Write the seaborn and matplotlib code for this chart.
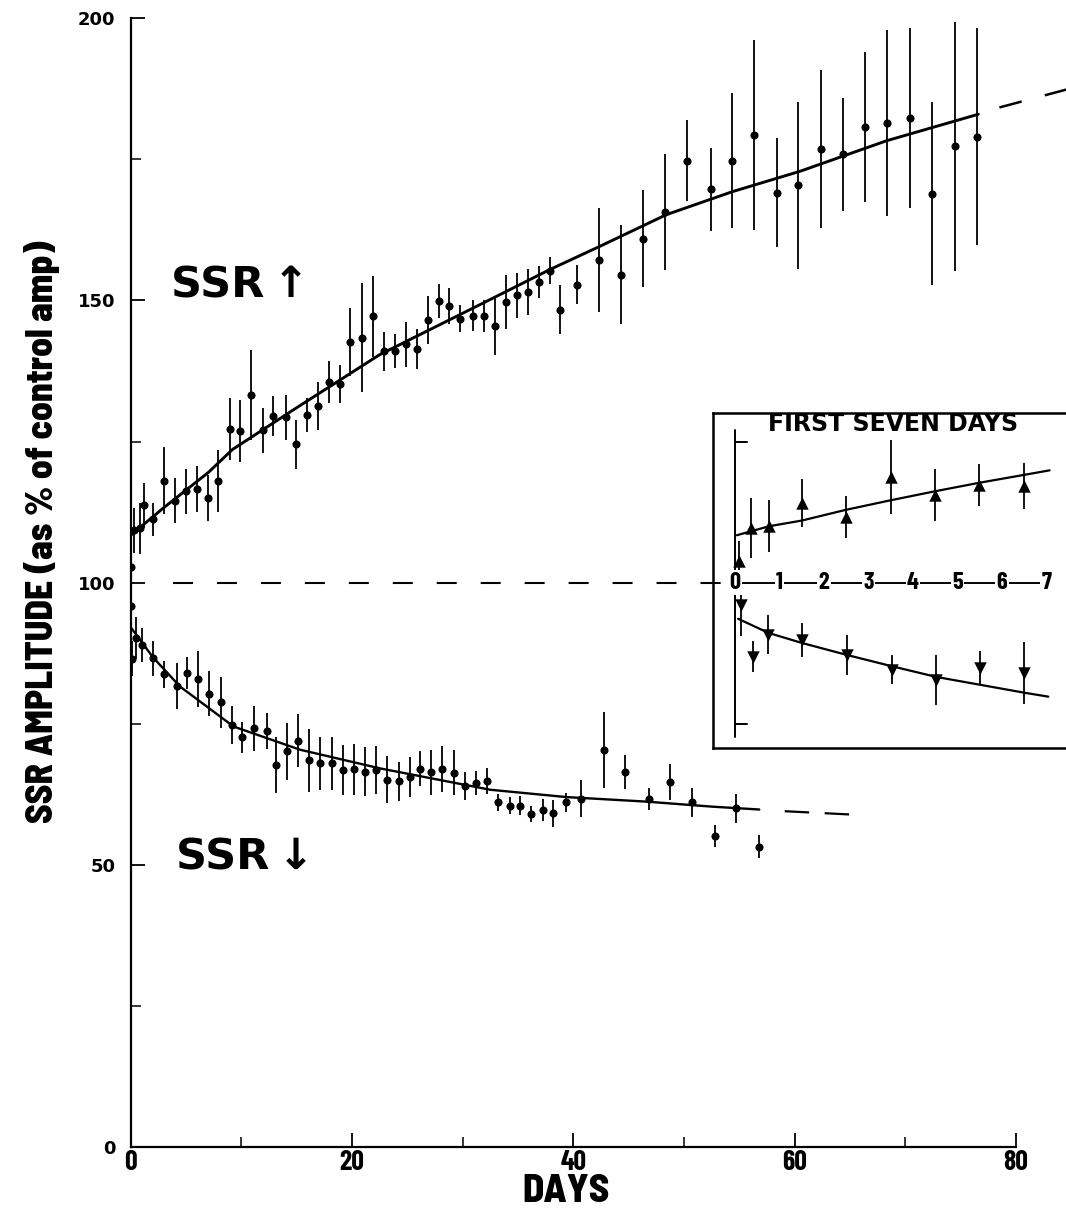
import numpy as np
import pandas as pd
import matplotlib
matplotlib.use("Agg")
import matplotlib.pyplot as plt
import seaborn as sns
from matplotlib import font_manager

# ---------------- data ----------------
up_days = [0.0, 0.3, 0.8, 1.2, 2.0, 3.0, 4.0, 5.0, 6.0, 7.0, 7.9,
           9.0, 9.9, 10.9, 12.0, 12.9, 14.0, 14.9, 15.9, 16.9, 17.9, 18.9,
           19.8, 20.9, 21.9, 22.9, 23.9, 24.9, 25.9, 26.9, 27.9, 28.8, 29.8,
           30.9, 31.9, 32.9, 33.9, 34.9, 35.9, 36.9, 37.9, 38.8, 40.3, 42.3,
           44.3, 46.3, 48.3, 50.3, 52.4, 54.3, 56.3, 58.4, 60.3, 62.4, 64.4,
           66.4, 68.3, 70.4, 72.4, 74.5, 76.5]
up_vals = [102.8, 109.3, 109.6, 113.7, 111.2, 118.1, 114.5, 116.2, 116.6, 115.0, 118.0,
           127.3, 126.8, 133.2, 127.0, 129.5, 129.3, 124.5, 129.7, 131.3, 135.6, 135.2,
           142.6, 143.4, 147.2, 141.0, 141.0, 142.2, 141.4, 146.5, 149.9, 149.0, 146.8,
           147.3, 147.2, 145.4, 149.8, 150.9, 151.5, 153.3, 155.3, 148.4, 152.8, 157.1,
           154.6, 160.9, 165.7, 174.8, 169.7, 174.8, 179.3, 169.1, 170.4, 176.8, 175.9,
           180.7, 181.4, 182.3, 168.9, 177.3, 179.0]
up_err = [3.5, 4.0, 4.5, 4.0, 3.0, 6.0, 4.0, 4.0, 4.0, 4.0, 5.5,
          5.5, 5.5, 8.0, 4.0, 3.5, 4.0, 4.4, 3.0, 4.3, 3.7, 3.3,
          6.0, 9.7, 7.2, 3.5, 3.0, 4.0, 3.5, 4.3, 3.0, 3.2, 2.4,
          2.7, 2.8, 5.0, 4.8, 4.0, 4.0, 2.8, 2.4, 4.3, 3.5, 9.2,
          8.7, 8.6, 10.3, 7.1, 7.4, 12.0, 16.8, 9.7, 14.8, 14.0, 10.0,
          13.3, 16.5, 16.0, 16.2, 22.0, 19.2]

down_days = [0.0, 0.1, 0.5, 1.05, 2.0, 3.0, 4.2, 5.1, 6.1, 7.1, 8.2, 9.15,
             10.1, 11.1, 12.3, 13.1, 14.1, 15.1, 16.1, 17.1, 18.2, 19.15, 20.2,
             21.2, 22.2, 23.2, 24.2, 25.2, 26.1, 27.1, 28.1, 29.2, 30.2, 31.2,
             32.2, 33.2, 34.3, 35.2, 36.2, 37.3, 38.2, 39.3, 40.7, 42.8, 44.7,
             46.8, 48.7, 50.7, 52.8, 54.7, 56.8]
down_vals = [95.8, 86.5, 90.2, 88.9, 86.6, 83.8, 81.7, 84.0, 82.9, 80.3, 78.8, 74.8,
             72.6, 74.2, 73.7, 67.7, 70.1, 72.0, 68.5, 68.0, 68.0, 66.8, 66.9,
             66.5, 66.8, 65.1, 64.8, 65.6, 67.0, 66.4, 67.0, 66.3, 64.0, 64.5,
             64.8, 61.1, 60.5, 60.5, 59.0, 59.7, 59.1, 61.1, 61.7, 70.4, 66.5,
             61.7, 64.6, 61.1, 55.1, 60.0, 53.2]
down_err = [3.0, 3.1, 3.7, 3.0, 3.1, 2.4, 4.0, 2.8, 5.0, 4.0, 4.5, 3.4,
            2.7, 4.0, 3.2, 5.0, 5.0, 4.7, 5.6, 4.7, 4.7, 4.5, 4.5,
            4.3, 4.3, 4.1, 3.5, 3.5, 3.1, 4.0, 4.1, 4.0, 2.5, 2.1,
            2.3, 1.5, 1.5, 1.7, 1.5, 2.0, 2.4, 1.7, 3.3, 6.7, 3.0,
            2.0, 3.2, 2.6, 2.0, 2.6, 2.0]

up_fit_days = [0, 3, 7, 9.2, 15, 22.5, 31.6, 37.9, 42.4, 48.4, 54.4, 60.5, 68.3, 76.6]
up_fit_vals = [108.4, 113.3, 119.5, 123.6, 131.0, 140.4, 149.3, 155.5, 159.6, 165.2,
               169.3, 172.9, 178.3, 183.0]
up_ext_days = [78.5, 84.6]
up_ext_vals = [184.2, 187.4]

down_fit_days = [0, 2.0, 4.45, 9.3, 15.3, 22.5, 32.5, 39.4, 46.6, 52.6, 56.8]
down_fit_vals = [92.1, 86.8, 81.6, 74.5, 70.4, 67.1, 63.3, 62.0, 61.2, 60.3, 59.8]
down_ext_days = [59.1, 65.2]
down_ext_vals = [59.5, 58.9]

ref_days = [3.8, 53.4]
ref_vals = [100, 100]

# inset: first seven days
in_up_days = [0.1, 0.36, 0.77, 1.5, 2.49, 3.5, 4.5, 5.49, 6.5]
in_up_vals = [103.8, 109.7, 110.0, 114.1, 111.6, 118.7, 115.6, 117.3, 117.1]
in_up_err = [3.5, 5.3, 4.6, 4.2, 3.75, 6.6, 4.6, 3.7, 4.1]
in_down_days = [0.13, 0.41, 0.75, 1.51, 2.51, 3.52, 4.52, 5.51, 6.5]
in_down_vals = [96.1, 86.9, 90.8, 89.9, 87.2, 84.6, 82.8, 84.9, 84.0]
in_down_err = [5.5, 2.7, 3.4, 3.0, 3.5, 2.5, 4.4, 3.0, 5.5]
in_up_fit_days = [0.04, 0.77, 1.5, 2.49, 3.5, 4.5, 5.49, 6.5, 7.07]
in_up_fit_vals = [108.4, 110.0, 111.0, 112.9, 114.6, 116.2, 117.7, 119.1, 119.9]
in_down_fit_days = [0.07, 0.75, 1.51, 2.51, 3.52, 4.52, 5.51, 6.5, 7.04]
in_down_fit_vals = [93.6, 91.1, 89.3, 87.2, 85.2, 83.3, 81.9, 80.5, 79.8]

x_ticks = [0, 20, 40, 60, 80]
x_minor = [10, 30, 50, 70]
y_ticks = [0, 50, 100, 150, 200]
y_minor = [25, 75, 125, 175]
inset_labels = [0, 1, 2, 3, 4, 5, 6, 7]

# ---------------- style ----------------
sns.set_theme(style="ticks")
plt.rcParams["font.family"] = ["DejaVu Sans"]
for k in ["text.color", "axes.labelcolor", "xtick.color", "ytick.color", "axes.edgecolor"]:
    plt.rcParams[k] = "black"
COND = ["Barlow Condensed", "Archivo Narrow", "DejaVu Sans"]
names = {f.name for f in font_manager.fontManager.ttflist}
if "Barlow Semi Condensed" in names:
    HEAVY = ["Barlow Semi Condensed", "Barlow Condensed", "DejaVu Sans"]
    YL_SIZE, DAYS_SIZE = 27, 28
else:
    HEAVY = COND
    YL_SIZE, DAYS_SIZE = 30.5, 31

W, H = 1066, 1215
fig = plt.figure(figsize=(W / 100, H / 100), dpi=100)

def fx(px):
    return px / W

def fy(py):
    return 1 - py / H

X0, X80 = 130.7, 1016.0
Y0, Y200 = 1147.0, 18.3
ax = fig.add_axes([fx(X0), fy(Y0), (X80 - X0) / W, (Y0 - Y200) / H])
ax.set_xlim(0, 80)
ax.set_ylim(0, 200)
ax.set_facecolor("white")
for s in ["top", "right"]:
    ax.spines[s].set_visible(False)
for s in ["left", "bottom"]:
    ax.spines[s].set_linewidth(1.6)
    ax.spines[s].set_color("black")

ax.set_xticks(x_ticks)
ax.set_xticks(x_minor, minor=True)
ax.set_yticks(y_ticks)
ax.set_yticks(y_minor, minor=True)
ax.tick_params(axis="both", which="major", direction="in", length=10, width=1.3, color="black")
ax.tick_params(axis="both", which="minor", direction="in", length=7, width=1.1, color="black")
ax.tick_params(axis="x", which="major", pad=2)
ax.tick_params(axis="y", which="major", pad=11)
ax.set_xticklabels([str(t) for t in x_ticks], fontsize=20, fontweight="bold",
                   family=COND, color="black")
ax.set_yticklabels([str(t) for t in y_ticks], fontsize=13, fontweight="bold",
                   color="black")

# reference dashed line at 100
ax.plot(ref_days, ref_vals, color="black", lw=1.5, linestyle=(0, (9.6, 11.5)))

# error bars + points
ax.errorbar(up_days, up_vals, yerr=up_err, fmt="none", ecolor="black", elinewidth=1.3, capsize=0)
ax.errorbar(down_days, down_vals, yerr=down_err, fmt="none", ecolor="black", elinewidth=1.3, capsize=0)
pts = pd.DataFrame({"day": up_days + down_days, "amp": up_vals + down_vals})
sns.scatterplot(data=pts, x="day", y="amp", ax=ax, color="black", s=34, edgecolor="black",
                linewidth=0, zorder=3, legend=False)

# fitted curves
sns.lineplot(x=up_fit_days, y=up_fit_vals, ax=ax, color="black", lw=2.1, estimator=None, sort=False)
sns.lineplot(x=down_fit_days, y=down_fit_vals, ax=ax, color="black", lw=1.7, estimator=None, sort=False)
l1, = ax.plot(up_ext_days, up_ext_vals, color="black", lw=1.8, linestyle=(0, (9.2, 9.6)))
l1.set_clip_on(False)
ax.plot(down_ext_days, down_ext_vals, color="black", lw=1.6, linestyle=(0, (11, 7)))
ax.set_xlabel("")
ax.set_ylabel("")

# annotations
fig.text(fx(240), fy(286), "SSR\u2009\u2191", fontsize=31, fontweight="bold", ha="center", va="center")
fig.text(fx(245), fy(858), "SSR\u2009\u2193", fontsize=31, fontweight="bold", ha="center", va="center")
fig.text(fx(42), fy(532), "SSR AMPLITUDE (as % of control amp)", rotation=90,
         fontsize=YL_SIZE, fontweight="heavy", family=HEAVY, ha="center", va="center")
fig.text(fx(566), fy(1191), "DAYS", fontsize=DAYS_SIZE, fontweight="heavy", family=HEAVY,
         ha="center", va="center")

# ---------------- inset ----------------
BX0, BX1, BY0, BY1 = 713.0, 1066.0, 413.0, 748.0
IX0, IPD = 735.0, 44.5
PPU = (Y0 - Y200) / 200.0
iax = fig.add_axes([fx(BX0), fy(BY1), (BX1 - BX0) / W, (BY1 - BY0) / H])
iax.set_xlim((BX0 - IX0) / IPD, (BX1 - IX0) / IPD)
iax.set_ylim((Y0 - BY1) / PPU, (Y0 - BY0) / PPU)
iax.set_facecolor("white")
iax.set_xticks([])
iax.set_yticks([])
iax.spines["right"].set_visible(False)
for s in ["left", "top", "bottom"]:
    iax.spines[s].set_linewidth(1.8)
    iax.spines[s].set_color("black")
iax.set_zorder(5)

# inner axis lines
iax.plot([0, 0], [72.6, 127.0], color="black", lw=1.4)
for v in [75, 125]:
    iax.plot([0, 0.27], [v, v], color="black", lw=1.4)
iax.plot([-0.05, 7.0], [100, 100], color="black", lw=1.4)
iax.plot([(BX0 - IX0) / IPD, (BX0 + 7 - IX0) / IPD], [100, 100], color="black", lw=1.4, clip_on=False)
for t in inset_labels:
    iax.text(t, 100, str(t), fontsize=17.5, fontweight="bold", family=COND,
             ha="center", va="center",
             bbox=dict(facecolor="white", edgecolor="none", pad=0.8), zorder=4)

iax.errorbar(in_up_days, in_up_vals, yerr=in_up_err, fmt="none", ecolor="black", elinewidth=1.3, capsize=0)
iax.errorbar(in_down_days, in_down_vals, yerr=in_down_err, fmt="none", ecolor="black", elinewidth=1.3, capsize=0)
sns.lineplot(x=in_up_fit_days, y=in_up_fit_vals, ax=iax, color="black", lw=1.6, estimator=None, sort=False)
sns.lineplot(x=in_down_fit_days, y=in_down_fit_vals, ax=iax, color="black", lw=1.6, estimator=None, sort=False)
sns.scatterplot(x=in_up_days, y=in_up_vals, ax=iax, marker="^", s=80, color="black",
                edgecolor="black", linewidth=0, zorder=5, legend=False)
sns.scatterplot(x=in_down_days, y=in_down_vals, ax=iax, marker="v", s=80, color="black",
                edgecolor="black", linewidth=0, zorder=5, legend=False)
iax.set_xlabel("")
iax.set_ylabel("")
iax.text((893 - IX0) / IPD, (Y0 - 424) / PPU, "FIRST SEVEN DAYS", fontsize=17,
         fontweight="bold", ha="center", va="center")

fig.savefig("out.png", dpi=100, facecolor="white")
